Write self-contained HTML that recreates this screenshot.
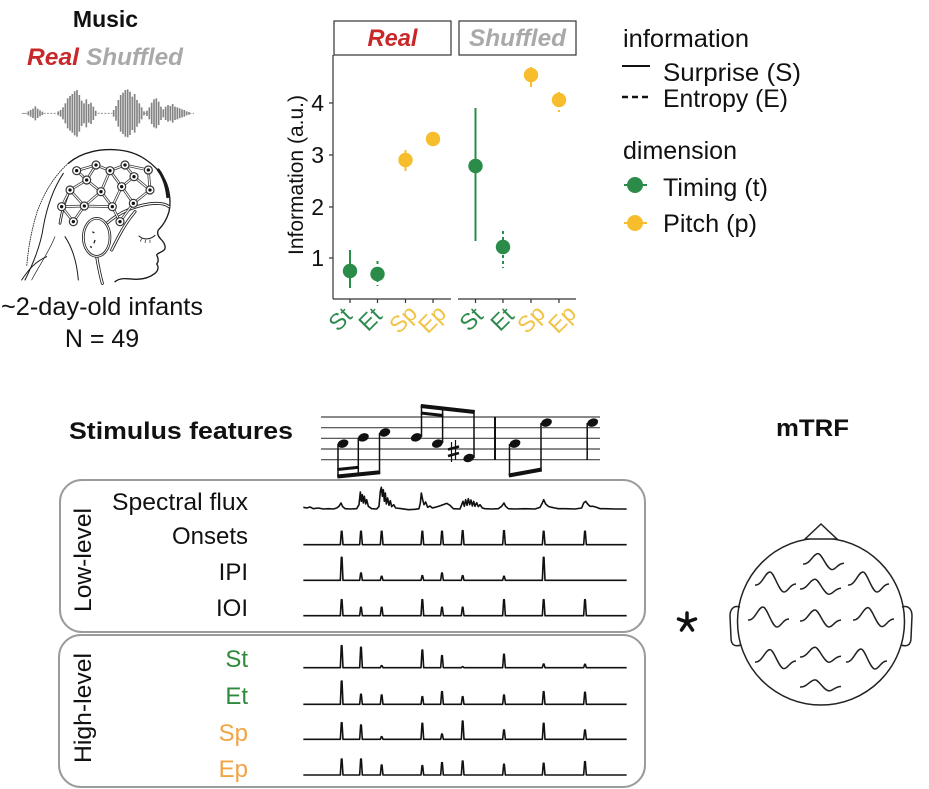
<!DOCTYPE html>
<html><head><meta charset="utf-8"><style>
html,body{margin:0;padding:0;background:#fff;}
svg{display:block;}
text{font-family:"Liberation Sans",Arial,sans-serif;}
</style></head><body>
<svg width="929" height="789" viewBox="0 0 929 789" xmlns="http://www.w3.org/2000/svg">
<rect width="929" height="789" fill="#fff"/>

<!-- ===== Top-left: Music ===== -->
<text x="105.5" y="27" font-size="23" font-weight="bold" text-anchor="middle" fill="#111">Music</text>
<text x="27" y="65" font-size="24" font-weight="bold" font-style="italic" fill="#c8282a" textLength="52" lengthAdjust="spacingAndGlyphs">Real</text>
<text x="86" y="65" font-size="24" font-weight="bold" font-style="italic" fill="#a9a9a9" textLength="97" lengthAdjust="spacingAndGlyphs">Shuffled</text>

<g transform="translate(15,80) scale(0.33333)">
  <!-- waveform -->
  <g stroke="#838383" stroke-width="5">
    <line x1="20" y1="100" x2="36" y2="100" stroke-width="2.5"/>
    <line x1="40" y1="94" x2="40" y2="106"/><line x1="47" y1="90" x2="47" y2="110"/><line x1="54" y1="86" x2="54" y2="114"/><line x1="61" y1="79" x2="61" y2="121"/><line x1="68" y1="86" x2="68" y2="114"/><line x1="75" y1="91" x2="75" y2="109"/><line x1="82" y1="95" x2="82" y2="105"/>
    <line x1="86" y1="100" x2="128" y2="100" stroke-width="2.5" stroke-dasharray="6,4"/>
    <line x1="130" y1="94" x2="130" y2="106"/><line x1="137" y1="90" x2="137" y2="110"/><line x1="144" y1="82" x2="144" y2="118"/><line x1="151" y1="70" x2="151" y2="130"/><line x1="158" y1="55" x2="158" y2="145"/><line x1="165" y1="48" x2="165" y2="152"/><line x1="172" y1="42" x2="172" y2="158"/><line x1="179" y1="34" x2="179" y2="166"/><line x1="186" y1="30" x2="186" y2="170"/><line x1="193" y1="45" x2="193" y2="155"/><line x1="200" y1="62" x2="200" y2="138"/><line x1="207" y1="70" x2="207" y2="130"/><line x1="214" y1="58" x2="214" y2="142"/><line x1="221" y1="72" x2="221" y2="128"/><line x1="228" y1="68" x2="228" y2="132"/><line x1="235" y1="80" x2="235" y2="120"/><line x1="242" y1="92" x2="242" y2="108"/>
    <line x1="248" y1="100" x2="292" y2="100" stroke-width="2.5" stroke-dasharray="6,4"/>
    <line x1="296" y1="90" x2="296" y2="110"/><line x1="303" y1="78" x2="303" y2="122"/><line x1="310" y1="60" x2="310" y2="140"/><line x1="317" y1="45" x2="317" y2="155"/><line x1="324" y1="38" x2="324" y2="162"/><line x1="331" y1="30" x2="331" y2="170"/><line x1="338" y1="28" x2="338" y2="172"/><line x1="345" y1="35" x2="345" y2="165"/><line x1="352" y1="50" x2="352" y2="150"/><line x1="359" y1="42" x2="359" y2="158"/><line x1="366" y1="60" x2="366" y2="140"/><line x1="373" y1="70" x2="373" y2="130"/><line x1="380" y1="82" x2="380" y2="118"/><line x1="387" y1="94" x2="387" y2="106"/>
    <line x1="390" y1="100" x2="394" y2="100" stroke-width="2.5"/>
    <line x1="396" y1="92" x2="396" y2="108"/><line x1="403" y1="82" x2="403" y2="118"/><line x1="410" y1="68" x2="410" y2="132"/><line x1="417" y1="58" x2="417" y2="142"/><line x1="424" y1="55" x2="424" y2="145"/><line x1="431" y1="65" x2="431" y2="135"/><line x1="438" y1="80" x2="438" y2="120"/><line x1="445" y1="88" x2="445" y2="112"/><line x1="452" y1="80" x2="452" y2="120"/><line x1="459" y1="75" x2="459" y2="125"/><line x1="466" y1="78" x2="466" y2="122"/><line x1="473" y1="72" x2="473" y2="128"/><line x1="480" y1="80" x2="480" y2="120"/><line x1="487" y1="82" x2="487" y2="118"/><line x1="494" y1="85" x2="494" y2="115"/><line x1="501" y1="88" x2="501" y2="112"/><line x1="508" y1="90" x2="508" y2="110"/><line x1="515" y1="94" x2="515" y2="106"/><line x1="522" y1="96" x2="522" y2="104"/>
    <line x1="525" y1="100" x2="540" y2="100" stroke-width="2.5" stroke-dasharray="4,4"/>
  </g>
  <!-- head drawing -->
  <g fill="none" stroke="#1a1a1a" stroke-linecap="round" stroke-linejoin="round">
    <path d="M160,250 C120,285 85,340 65,400 C50,450 40,500 35,560" stroke-width="2.5" stroke-dasharray="3,4"/>
    <path d="M145,280 C112,330 95,385 85,440 C78,490 60,540 30,600" stroke-width="3"/>
    <path d="M120,470 C100,520 70,560 50,600" stroke-width="2"/>
    <path d="M150,470 C170,500 185,540 190,600" stroke-width="3"/>
    <path d="M20,600 C40,570 60,545 95,530" stroke-width="3"/>
    <path d="M160,250 C200,215 260,205 310,210 C370,215 420,250 450,300 C465,330 468,370 462,395 C455,420 440,440 430,450 C425,460 430,470 438,478 C450,490 455,505 445,512 C438,518 428,518 425,525 C430,535 432,545 425,552 C432,560 430,572 420,580 C405,592 385,598 365,598 C340,598 320,590 300,605" stroke-width="4"/>
    <path d="M430,270 C445,290 455,320 458,350" stroke-width="9"/>
    <path d="M372,468 C385,480 405,480 420,466" stroke-width="3"/>
    <path d="M380,476 l-4,8 M392,480 l-2,8 M405,480 l0,8" stroke-width="2"/>
    <!-- cap bands -->
    <path d="M275,430 C310,400 350,380 400,372 C430,368 450,370 462,380" stroke-width="9"/>
    <path d="M290,510 C310,470 330,430 360,395" stroke-width="9"/>
    <path d="M245,530 C250,560 255,585 262,610" stroke-width="9"/>
    <path d="M165,330 C150,360 140,400 135,430" stroke-width="8"/>
  </g>
  <g fill="none" stroke="#fff" stroke-linecap="round">
    <path d="M275,430 C310,400 350,380 400,372 C430,368 450,370 462,380" stroke-width="4"/>
    <path d="M290,510 C310,470 330,430 360,395" stroke-width="4"/>
    <path d="M245,530 C250,560 255,585 262,610" stroke-width="4"/>
    <path d="M165,330 C150,360 140,400 135,430" stroke-width="3"/>
  </g>
  <!-- mesh -->
  <g stroke="#333" stroke-width="8" fill="none">
    <path d="M185,272 L243,255 L285,272 L330,255 L400,270 L405,330 M185,272 L215,300 L243,255 M285,272 L258,335 M285,272 L320,320 M330,255 L357,290 L320,320 M357,290 L405,330 M215,300 L165,330 M215,300 L258,335 M165,330 L140,380 M165,330 L208,378 M258,335 L208,378 M258,335 L292,380 M320,320 L292,380 M320,320 L355,370 M405,330 L355,370 M140,380 L175,425 M208,378 L175,425 M208,378 L292,380 M292,380 L315,425 M355,370 L315,425 M140,380 L208,378"/>
  </g>
  <g stroke="#fff" stroke-width="3.5" fill="none">
    <path d="M185,272 L243,255 L285,272 L330,255 L400,270 L405,330 M185,272 L215,300 L243,255 M285,272 L258,335 M285,272 L320,320 M330,255 L357,290 L320,320 M357,290 L405,330 M215,300 L165,330 M215,300 L258,335 M165,330 L140,380 M165,330 L208,378 M258,335 L208,378 M258,335 L292,380 M320,320 L292,380 M320,320 L355,370 M405,330 L355,370 M140,380 L175,425 M208,378 L175,425 M208,378 L292,380 M292,380 L315,425 M355,370 L315,425 M140,380 L208,378"/>
  </g>
  <!-- ear -->
  <ellipse cx="245" cy="472" rx="40" ry="57" fill="#fff" stroke="#222" stroke-width="8"/>
  <ellipse cx="245" cy="472" rx="40" ry="57" fill="none" stroke="#fff" stroke-width="3"/>
  <path d="M232,455 l6,4 M240,480 l-3,10 M225,500 l6,2" stroke="#222" stroke-width="4"/>
  <!-- electrodes -->
  <g fill="#fff" stroke="#333" stroke-width="3.5">
    <circle cx="185" cy="272" r="12"/><circle cx="243" cy="255" r="12"/><circle cx="285" cy="272" r="12"/><circle cx="330" cy="255" r="12"/><circle cx="357" cy="290" r="12"/><circle cx="215" cy="300" r="12"/><circle cx="165" cy="330" r="12"/><circle cx="258" cy="335" r="12"/><circle cx="320" cy="320" r="12"/><circle cx="405" cy="330" r="12"/><circle cx="140" cy="380" r="12"/><circle cx="208" cy="378" r="12"/><circle cx="292" cy="380" r="12"/><circle cx="355" cy="370" r="12"/><circle cx="175" cy="425" r="12"/><circle cx="315" cy="425" r="12"/><circle cx="400" cy="270" r="12"/>
  </g>
  <g fill="#111">
    <circle cx="185" cy="272" r="5"/><circle cx="243" cy="255" r="5"/><circle cx="285" cy="272" r="5"/><circle cx="330" cy="255" r="5"/><circle cx="357" cy="290" r="5"/><circle cx="215" cy="300" r="5"/><circle cx="165" cy="330" r="5"/><circle cx="258" cy="335" r="5"/><circle cx="320" cy="320" r="5"/><circle cx="405" cy="330" r="5"/><circle cx="140" cy="380" r="5"/><circle cx="208" cy="378" r="5"/><circle cx="292" cy="380" r="5"/><circle cx="355" cy="370" r="5"/><circle cx="175" cy="425" r="5"/><circle cx="315" cy="425" r="5"/><circle cx="400" cy="270" r="5"/>
  </g>
</g>

<text x="1" y="315" font-size="25" fill="#111" textLength="202" lengthAdjust="spacingAndGlyphs">~2-day-old infants</text>
<text x="102" y="347" font-size="25" fill="#111" text-anchor="middle">N = 49</text>

<!-- ===== Chart ===== -->
<rect x="334" y="21" width="117" height="34" fill="#fff" stroke="#333" stroke-width="1.2"/>
<rect x="459" y="21" width="117" height="34" fill="#fff" stroke="#333" stroke-width="1.2"/>
<text x="392.5" y="46" font-size="24" font-weight="bold" font-style="italic" fill="#c8282a" text-anchor="middle" textLength="50" lengthAdjust="spacingAndGlyphs">Real</text>
<text x="517.5" y="46" font-size="24" font-weight="bold" font-style="italic" fill="#a9a9a9" text-anchor="middle" textLength="97" lengthAdjust="spacingAndGlyphs">Shuffled</text>

<g stroke="#333" stroke-width="1.2">
  <line x1="333" y1="55" x2="333" y2="299"/>
  <line x1="333" y1="299" x2="451" y2="299"/>
  <line x1="458" y1="299" x2="576" y2="299"/>
  <line x1="329" y1="103" x2="333" y2="103"/>
  <line x1="329" y1="155" x2="333" y2="155"/>
  <line x1="329" y1="207" x2="333" y2="207"/>
  <line x1="329" y1="258" x2="333" y2="258"/>
  <line x1="350" y1="299" x2="350" y2="303"/><line x1="377.5" y1="299" x2="377.5" y2="303"/><line x1="405.5" y1="299" x2="405.5" y2="303"/><line x1="433" y1="299" x2="433" y2="303"/>
  <line x1="475.5" y1="299" x2="475.5" y2="303"/><line x1="503" y1="299" x2="503" y2="303"/><line x1="531" y1="299" x2="531" y2="303"/><line x1="559" y1="299" x2="559" y2="303"/>
</g>
<g font-size="23" fill="#111" text-anchor="end">
  <text x="324" y="111">4</text>
  <text x="324" y="163">3</text>
  <text x="324" y="215">2</text>
  <text x="324" y="266">1</text>
</g>
<text transform="translate(303,175) rotate(-90)" font-size="21" fill="#111" text-anchor="middle" textLength="160" lengthAdjust="spacingAndGlyphs">Information (a.u.)</text>

<!-- error bars -->
<g stroke-width="2">
  <line x1="350" y1="250" x2="350" y2="288" stroke="#2b8c4a"/>
  <line x1="377.5" y1="261" x2="377.5" y2="286" stroke="#2b8c4a" stroke-dasharray="3,3"/>
  <line x1="405.5" y1="150" x2="405.5" y2="171" stroke="#f8bd2d"/>
  <line x1="433" y1="134" x2="433" y2="145" stroke="#f8bd2d" stroke-dasharray="3,3"/>
  <line x1="475.5" y1="108" x2="475.5" y2="241" stroke="#2b8c4a"/>
  <line x1="503" y1="231" x2="503" y2="268" stroke="#2b8c4a" stroke-dasharray="3,3"/>
  <line x1="531" y1="67" x2="531" y2="87" stroke="#f8bd2d"/>
  <line x1="559" y1="92" x2="559" y2="112" stroke="#f8bd2d" stroke-dasharray="3,3"/>
</g>
<g>
  <circle cx="350" cy="271" r="7.2" fill="#2b8c4a"/>
  <circle cx="377.5" cy="274" r="7.2" fill="#2b8c4a"/>
  <circle cx="405.5" cy="160" r="7.2" fill="#f8bd2d"/>
  <circle cx="433" cy="139" r="7.2" fill="#f8bd2d"/>
  <circle cx="475.5" cy="166" r="7.2" fill="#2b8c4a"/>
  <circle cx="503" cy="247" r="7.2" fill="#2b8c4a"/>
  <circle cx="531" cy="75" r="7.2" fill="#f8bd2d"/>
  <circle cx="559" cy="100" r="7.2" fill="#f8bd2d"/>
</g>
<g font-size="23" text-anchor="middle">
  <text transform="translate(340,319) rotate(-45)" y="8" fill="#2e8b4f">St</text>
  <text transform="translate(370,319) rotate(-45)" y="8" fill="#2e8b4f">Et</text>
  <text transform="translate(403,319) rotate(-45)" y="8" fill="#f1c346">Sp</text>
  <text transform="translate(432,319) rotate(-45)" y="8" fill="#f1c346">Ep</text>
  <text transform="translate(471,319) rotate(-45)" y="8" fill="#2e8b4f">St</text>
  <text transform="translate(502,319) rotate(-45)" y="8" fill="#2e8b4f">Et</text>
  <text transform="translate(531,319) rotate(-45)" y="8" fill="#f1c346">Sp</text>
  <text transform="translate(562,319) rotate(-45)" y="8" fill="#f1c346">Ep</text>
</g>

<!-- ===== Legend ===== -->
<g font-size="25" fill="#111">
  <text x="623" y="47" textLength="126" lengthAdjust="spacingAndGlyphs">information</text>
  <text x="663" y="81" textLength="138" lengthAdjust="spacingAndGlyphs">Surprise (S)</text>
  <text x="663" y="107" textLength="125" lengthAdjust="spacingAndGlyphs">Entropy (E)</text>
  <text x="623" y="159" textLength="114" lengthAdjust="spacingAndGlyphs">dimension</text>
  <text x="663" y="196" textLength="105" lengthAdjust="spacingAndGlyphs">Timing (t)</text>
  <text x="663" y="232" textLength="94" lengthAdjust="spacingAndGlyphs">Pitch (p)</text>
</g>
<line x1="622" y1="66" x2="650" y2="66" stroke="#111" stroke-width="2"/>
<line x1="622" y1="97" x2="652" y2="97" stroke="#111" stroke-width="2.5" stroke-dasharray="6,4"/>
<line x1="624" y1="185" x2="647" y2="185" stroke="#2b8c4a" stroke-width="2"/>
<circle cx="635" cy="185" r="8" fill="#2b8c4a"/>
<line x1="624" y1="223" x2="647" y2="223" stroke="#f8bd2d" stroke-width="2"/>
<circle cx="635" cy="223" r="8" fill="#f8bd2d"/>

<!-- ===== Stimulus features ===== -->
<text x="69" y="439" font-size="24" font-weight="bold" fill="#111" textLength="224" lengthAdjust="spacingAndGlyphs">Stimulus features</text>

<g stroke="#444" stroke-width="1.2">
  <line x1="321" y1="417" x2="600" y2="417"/>
  <line x1="321" y1="427.7" x2="600" y2="427.7"/>
  <line x1="321" y1="438.3" x2="600" y2="438.3"/>
  <line x1="321" y1="449" x2="600" y2="449"/>
  <line x1="321" y1="459.7" x2="600" y2="459.7"/>
</g>
<line x1="495" y1="417" x2="495" y2="460" stroke="#111" stroke-width="2"/>
<g fill="#111">
  <ellipse cx="343" cy="443.6" rx="5.6" ry="4" transform="rotate(-20 343 443.6)"/>
  <ellipse cx="363.4" cy="437.4" rx="5.6" ry="4" transform="rotate(-20 363.4 437.4)"/>
  <ellipse cx="384.8" cy="432.5" rx="5.6" ry="4" transform="rotate(-20 384.8 432.5)"/>
  <ellipse cx="416.3" cy="437.4" rx="5.6" ry="4" transform="rotate(-20 416.3 437.4)"/>
  <ellipse cx="437.4" cy="443.6" rx="5.6" ry="4" transform="rotate(-20 437.4 443.6)"/>
  <ellipse cx="468.8" cy="458" rx="5.6" ry="4" transform="rotate(-20 468.8 458)"/>
  <ellipse cx="515" cy="443.6" rx="5.6" ry="4" transform="rotate(-20 515 443.6)"/>
  <ellipse cx="546.5" cy="422.6" rx="5.6" ry="4" transform="rotate(-20 546.5 422.6)"/>
  <ellipse cx="592.7" cy="422.6" rx="5.6" ry="4" transform="rotate(-20 592.7 422.6)"/>
</g>
<g stroke="#111" stroke-width="1.5">
  <line x1="338" y1="444" x2="338" y2="477"/>
  <line x1="358.3" y1="438" x2="358.3" y2="475"/>
  <line x1="379.5" y1="433" x2="379.5" y2="473"/>
  <line x1="421.5" y1="437" x2="421.5" y2="405"/>
  <line x1="442.6" y1="443" x2="442.6" y2="407.5"/>
  <line x1="474" y1="458" x2="474" y2="410.5"/>
  <line x1="509.5" y1="444" x2="509.5" y2="476"/>
  <line x1="541" y1="423" x2="541" y2="470"/>
  <line x1="587.2" y1="423" x2="587.2" y2="460"/>
  <line x1="451.5" y1="442" x2="451.5" y2="462" stroke-width="1.2"/>
  <line x1="455.5" y1="440" x2="455.5" y2="460" stroke-width="1.2"/>
</g>
<g stroke="#111" stroke-linecap="butt">
  <line x1="337.3" y1="476.5" x2="380.2" y2="472.3" stroke-width="4"/>
  <line x1="337.3" y1="469.5" x2="359" y2="467.3" stroke-width="3"/>
  <line x1="420.8" y1="406" x2="474.7" y2="412" stroke-width="4"/>
  <line x1="420.8" y1="413" x2="443.3" y2="415.5" stroke-width="3"/>
  <line x1="508.8" y1="475.5" x2="541.7" y2="469.5" stroke-width="4"/>
  <line x1="448" y1="449.5" x2="459" y2="446.5" stroke-width="2.5"/>
  <line x1="448" y1="456" x2="459" y2="453" stroke-width="2.5"/>
</g>

<!-- boxes -->
<rect x="60" y="480" width="585" height="152" rx="22" ry="22" fill="none" stroke="#9b9b9b" stroke-width="2"/>
<rect x="59" y="635" width="586" height="152" rx="22" ry="22" fill="none" stroke="#9b9b9b" stroke-width="2"/>

<text transform="translate(91,560) rotate(-90)" font-size="24" fill="#111" text-anchor="middle" textLength="104" lengthAdjust="spacingAndGlyphs">Low-level</text>
<text transform="translate(91,708) rotate(-90)" font-size="24" fill="#111" text-anchor="middle" textLength="110" lengthAdjust="spacingAndGlyphs">High-level</text>

<g font-size="24" fill="#111" text-anchor="end">
  <text x="248" y="510" textLength="136" lengthAdjust="spacingAndGlyphs">Spectral flux</text>
  <text x="248" y="544">Onsets</text>
  <text x="248" y="580">IPI</text>
  <text x="248" y="616">IOI</text>
  <text x="248" y="667" fill="#2f8a3c">St</text>
  <text x="248" y="704" fill="#2f8a3c">Et</text>
  <text x="248" y="741" fill="#f2a444">Sp</text>
  <text x="248" y="777" fill="#f2a444">Ep</text>
</g>

<g transform="translate(295,478) scale(0.333333)" fill="none" stroke="#111" stroke-width="1.6" stroke-linejoin="round">
  <polyline vector-effect="non-scaling-stroke" points="25,88 35,90 45,87 55,92 70,90 85,93 100,92 115,93 125,90 132,85 138,75 143,86 150,92 165,93 185,92 192,80 196,42 199,70 202,50 205,75 208,55 212,78 215,65 220,85 230,92 245,93 252,85 256,40 259,28 262,55 265,35 268,70 271,45 274,78 278,60 282,82 286,68 290,86 296,80 302,90 320,92 340,95 360,94 372,92 376,75 379,45 383,65 387,80 392,72 398,88 405,84 412,90 420,88 430,85 445,80 455,76 465,82 475,92 495,93 500,80 504,70 508,85 512,65 516,82 520,62 524,80 528,66 532,84 536,70 540,85 545,74 550,86 555,80 562,90 570,92 590,93 610,92 620,85 627,75 632,85 640,92 660,93 690,92 720,93 735,88 742,75 746,65 752,78 760,85 770,88 780,90 790,92 810,92 840,93 860,90 866,75 872,70 878,78 885,85 895,85 905,88 915,92 930,92 960,93 995,93"/>
  <path vector-effect="non-scaling-stroke" d="M25,200 H136 l3,-40 h2 l3,40 H194 l3,-40 h2 l3,40 H256 l3,-40 h2 l3,40 H378 l3,-40 h2 l3,40 H437 l3,-40 h2 l3,40 H499 l3,-42 h2 l3,42 H623 l3,-42 h2 l3,42 H742 l3,-40 h2 l3,40 H866 l3,-40 h2 l3,40 H995"/>
  <path vector-effect="non-scaling-stroke" d="M25,307 H136 l3,-69 h2 l3,69 H194 l3,-22 h2 l3,22 H256 l3,-12 h2 l3,12 H378 l3,-14 h2 l3,14 H437 l3,-22 h2 l3,22 H499 l3,-14 h2 l3,14 H623 l3,-12 h2 l3,12 H742 l3,-69 h2 l3,69 H995"/>
  <path vector-effect="non-scaling-stroke" d="M25,413 H136 l3,-48 h2 l3,48 H194 l3,-25 h2 l3,25 H256 l3,-25 h2 l3,25 H378 l3,-48 h2 l3,48 H437 l3,-25 h2 l3,25 H499 l3,-25 h2 l3,25 H623 l3,-48 h2 l3,48 H742 l3,-48 h2 l3,48 H866 l3,-48 h2 l3,48 H995"/>
</g>
<g transform="translate(295,635) scale(0.333333)" fill="none" stroke="#111" stroke-width="1.6" stroke-linejoin="round">
  <path vector-effect="non-scaling-stroke" d="M25,98 H136 l3,-66 h2 l3,66 H194 l3,-61 h2 l3,61 H256 l3,-6 h2 l3,6 H378 l3,-53 h2 l3,53 H437 l3,-36 h2 l3,36 H499 l3,-3 h2 l3,3 H623 l3,-40 h2 l3,40 H742 l3,-11 h2 l3,11 H866 l3,-10 h2 l3,10 H995"/>
  <path vector-effect="non-scaling-stroke" d="M25,208 H136 l3,-70 h2 l3,70 H194 l3,-30 h2 l3,30 H256 l3,-28 h2 l3,28 H378 l3,-23 h2 l3,23 H437 l3,-38 h2 l3,38 H499 l3,-23 h2 l3,23 H623 l3,-28 h2 l3,28 H742 l3,-38 h2 l3,38 H866 l3,-36 h2 l3,36 H995"/>
  <path vector-effect="non-scaling-stroke" d="M25,313 H136 l3,-50 h2 l3,50 H194 l3,-43 h2 l3,43 H256 l3,-8 h2 l3,8 H378 l3,-48 h2 l3,48 H437 l3,-16 h2 l3,16 H499 l3,-55 h2 l3,55 H623 l3,-28 h2 l3,28 H742 l3,-48 h2 l3,48 H866 l3,-28 h2 l3,28 H995"/>
  <path vector-effect="non-scaling-stroke" d="M25,420 H136 l3,-48 h2 l3,48 H194 l3,-48 h2 l3,48 H256 l3,-30 h2 l3,30 H378 l3,-28 h2 l3,28 H437 l3,-37 h2 l3,37 H499 l3,-42 h2 l3,42 H623 l3,-32 h2 l3,32 H742 l3,-35 h2 l3,35 H866 l3,-40 h2 l3,40 H995"/>
</g>

<!-- ===== mTRF ===== -->
<text x="812.5" y="436" font-size="24" font-weight="bold" fill="#111" text-anchor="middle" textLength="73" lengthAdjust="spacingAndGlyphs">mTRF</text>
<g stroke="#111" stroke-width="3.5" stroke-linecap="round">
  <line x1="687" y1="622" x2="687" y2="613"/>
  <line x1="687" y1="622" x2="678.5" y2="619"/>
  <line x1="687" y1="622" x2="695.5" y2="619"/>
  <line x1="687" y1="622" x2="681.5" y2="630"/>
  <line x1="687" y1="622" x2="692.5" y2="630"/>
</g>
<g fill="none" stroke="#222" stroke-width="1.5">
  <circle cx="821" cy="621.5" r="83.5"/>
  <path d="M805,539 L821,524 L837,539 Z" fill="#fff"/>
  <path d="M740,607 C733,605 730,610 730,616 L731,638 C731,645 735,647 741,645"/>
  <path d="M902,607 C909,605 912,610 912,616 L911,638 C911,645 907,647 901,645"/>
</g>
<defs>
  <path id="wv" vector-effect="non-scaling-stroke" d="M0,0 C7,1 10,-13 15,-13 C19,-13 24,7 29,7 C33,7 35,-1 41,-1"/>
</defs>
<g fill="none" stroke="#222" stroke-width="1.5">
  <use href="#wv" transform="translate(803,564) scale(1,0.8)"/>
  <use href="#wv" transform="translate(755,585)"/>
  <use href="#wv" transform="translate(800,589) scale(1,0.75)"/>
  <use href="#wv" transform="translate(848,585)"/>
  <use href="#wv" transform="translate(748,620)"/>
  <use href="#wv" transform="translate(800,621) scale(1,0.85)"/>
  <use href="#wv" transform="translate(853,620) scale(1,0.95)"/>
  <use href="#wv" transform="translate(755,662) scale(1,0.95)"/>
  <use href="#wv" transform="translate(800,657) scale(1,0.75)"/>
  <use href="#wv" transform="translate(846,662)"/>
  <use href="#wv" transform="translate(800,687) scale(1,0.55)"/>
</g>
</svg>
</body></html>
